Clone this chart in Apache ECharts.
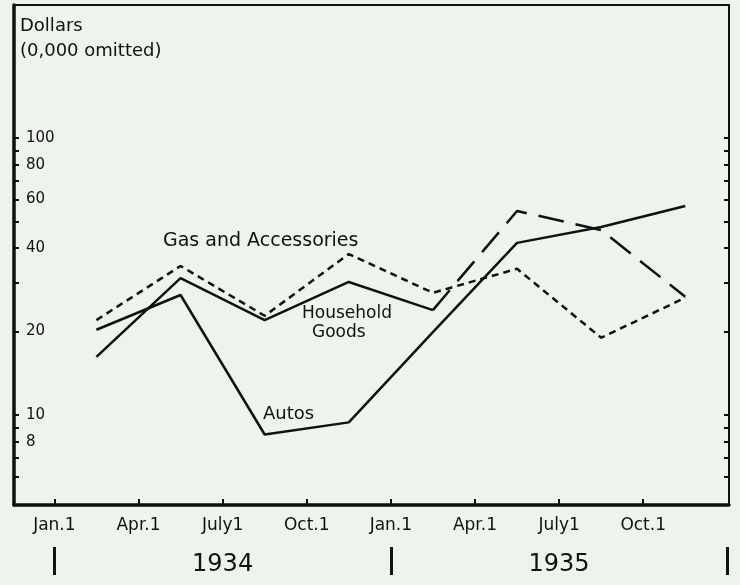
<!DOCTYPE html>
<html>
<head>
<meta charset="utf-8">
<script src="https://cdn.jsdelivr.net/npm/echarts@6/dist/echarts.min.js"></script>
<style>
html, body { margin: 0; padding: 0; background: #ecf4ec; }
#main { width: 740px; height: 585px; }
</style>
</head>
<body>
<div id="main"></div>
<script>
// quarters counted from Jan.1 1934, each value sits in the middle of its quarter
var quarters = [0.5, 1.5, 2.5, 3.5, 4.5, 5.5, 6.5, 7.5];
var autos = [20.3, 27.1, 8.5, 9.4, 19.9, 41.8, 47.7, 56.8];
var householdGoods = [16.2, 31.2, 22.0, 30.2, 23.9, 54.5, 46.5, 26.7];
var gasAccessories = [22.0, 34.5, 22.8, 38.1, 27.6, 33.7, 19.0, 26.5];

var monthTicks = [0, 1, 2, 3, 4, 5, 6, 7];
var monthLabels = ['Jan.1', 'Apr.1', 'July1', 'Oct.1', 'Jan.1', 'Apr.1', 'July1', 'Oct.1'];
var yearDividers = [0, 4, 8];
var yearPos = [2, 6];
var yearLabels = ['1934', '1935'];
var yTicks = [6, 7, 8, 9, 10, 20, 30, 40, 50, 60, 70, 80, 90, 100];
var yLabels = [8, 10, 20, 40, 60, 80, 100];

var font = 'DejaVu Sans';
var ink = '#111';

function pairs(vals, from, to) {
    var out = [];
    for (var i = 0; i < vals.length; i++) {
        if (i < from || i > to) continue;
        out.push([quarters[i], vals[i]]);
    }
    return out;
}

var myChart = echarts.init(document.getElementById('main'));

var option = {
    backgroundColor: '#ecf4ec',
    animation: false,
    grid: {
        left: 14, right: 11, top: 5, bottom: 80,
        show: true, borderColor: ink, borderWidth: 2
    },
    xAxis: [{
        type: 'value', min: -0.48, max: 8.02, position: 'bottom',
        splitLine: { show: false },
        axisLine: { onZero: false, lineStyle: { color: ink, width: 3.5 } },
        axisTick: { inside: true, length: 6, customValues: monthTicks, lineStyle: { color: ink, width: 2 } },
        axisLabel: {
            customValues: monthTicks, margin: 12, color: ink, fontSize: 17, fontFamily: font,
            formatter: function (v) { return monthLabels[monthTicks.indexOf(v)]; }
        }
    }, {
        type: 'value', min: -0.48, max: 8.02, position: 'bottom', offset: 42,
        splitLine: { show: false },
        axisLine: { show: false, onZero: false },
        axisTick: { show: true, length: 28, customValues: yearDividers, lineStyle: { color: ink, width: 3 } },
        axisLabel: {
            customValues: yearPos, margin: 6, color: ink, fontSize: 24, fontFamily: font,
            formatter: function (v) { return yearLabels[yearPos.indexOf(v)]; }
        }
    }],
    yAxis: [{
        type: 'log', logBase: 10, min: 4.73, max: 302, position: 'left',
        splitLine: { show: false },
        axisLine: { onZero: false, lineStyle: { color: ink, width: 3.5 } },
        axisTick: { inside: true, length: 5, customValues: yTicks, lineStyle: { color: ink, width: 2 } },
        axisLabel: {
            inside: true, customValues: yLabels, margin: 12, color: ink, fontSize: 15, fontFamily: font
        }
    }, {
        type: 'log', logBase: 10, min: 4.73, max: 302, position: 'right',
        splitLine: { show: false },
        axisLine: { onZero: false, lineStyle: { color: ink, width: 2 } },
        axisTick: { inside: true, length: 5, customValues: yTicks, lineStyle: { color: ink, width: 2 } },
        axisLabel: { show: false }
    }],
    series: [{
        name: 'Autos', type: 'line', symbol: 'none',
        lineStyle: { color: ink, width: 2.5 },
        data: pairs(autos, 0, 7)
    }, {
        name: 'Household Goods', type: 'line', symbol: 'none',
        lineStyle: { color: ink, width: 2.5 },
        data: pairs(householdGoods, 0, 4)
    }, {
        // 1935 part of Household Goods is drawn with long dashes
        name: 'Household Goods 1935', type: 'line', symbol: 'none',
        lineStyle: { color: ink, width: 2.5, type: [26, 12] },
        data: pairs(householdGoods, 4, 7)
    }, {
        name: 'Gas and Accessories', type: 'line', symbol: 'none',
        lineStyle: { color: ink, width: 2.5, type: [7, 5] },
        data: pairs(gasAccessories, 0, 7)
    }],
    graphic: [
        { type: 'text', left: 20, top: 17, style: { text: 'Dollars', fontSize: 18, fontFamily: font, fill: ink } },
        { type: 'text', left: 20, top: 42, style: { text: '(0,000 omitted)', fontSize: 18, fontFamily: font, fill: ink } },
        { type: 'text', left: 163, top: 232, style: { text: 'Gas and Accessories', fontSize: 19, fontFamily: font, fill: ink } },
        { type: 'text', left: 302, top: 305, style: { text: 'Household', fontSize: 17, fontFamily: font, fill: ink } },
        { type: 'text', left: 312, top: 324, style: { text: 'Goods', fontSize: 17, fontFamily: font, fill: ink } },
        { type: 'text', left: 263, top: 405, style: { text: 'Autos', fontSize: 18, fontFamily: font, fill: ink } }
    ]
};

myChart.setOption(option);
</script>
</body>
</html>
